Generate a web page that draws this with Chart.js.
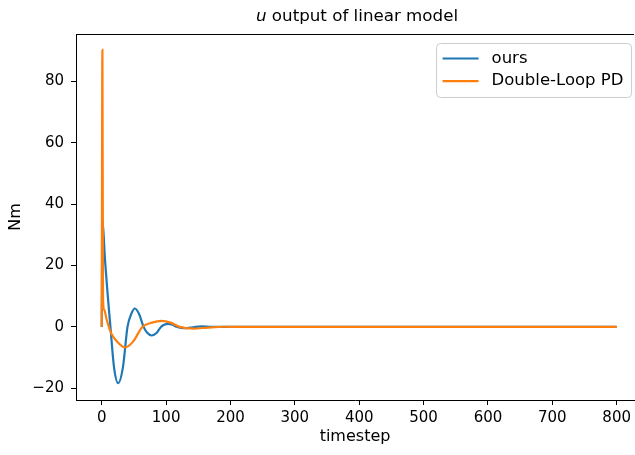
<!DOCTYPE html>
<html>
<head>
<meta charset="utf-8">
<script src="https://cdn.jsdelivr.net/npm/chart.js@4/dist/chart.umd.min.js"></script>
<style>
  html, body { margin: 0; padding: 0; background: #fff; overflow: hidden; }
  canvas { display: block; }
</style>
</head>
<body>
<canvas id="chart" width="635" height="455"></canvas>
<script>
// samples (timestep, Nm)
const tOurs = [0, 1, 5, 9, 13.5, 19, 25.5, 33, 40, 46, 51.5, 58, 65, 71, 77.5, 85, 92, 97, 103, 110, 116, 129, 142, 155, 170, 200, 250, 800];
const uOurs = [0, 35, 22, 11, 0, -13, -18.3, -13, 0, 4.3, 6.0, 4.2, 0, -2, -2.8, -2, 0, 0.7, 1.0, 0.7, 0.1, -0.4, -0.1, 0.15, 0, 0, 0, 0];

const tPD = [0, 1, 2, 4, 7.5, 11, 15, 23, 36, 49, 63, 78, 93, 107, 121, 142, 165, 190, 220, 800];
const uPD = [0, 90.2, 9, 5.5, 2.5, 0, -2.2, -4.6, -6.7, -4.7, 0, 1.4, 1.95, 1.4, 0, -0.55, -0.2, 0.05, 0, 0];

const xTicks = [0, 100, 200, 300, 400, 500, 600, 700, 800];
const yTicks = [-20, 0, 20, 40, 60, 80];

const seriesNames = ["ours", "Double-Loop PD"];
const seriesColors = ["#1f77b4", "#ff7f0e"];

const FONT = "'DejaVu Sans', sans-serif";

function toPoints(xs, ys) {
    return xs.map((x, i) => ({x: x, y: ys[i]}));
}

function tickText(v) {
    return v < 0 ? "\u2212" + Math.abs(v) : String(v);
}

// matplotlib style title with italic "u"
const titlePlugin = {
    id: "mplTitle",
    afterDraw(chart) {
        const ctx = chart.ctx;
        const area = chart.chartArea;
        const italic = "italic 16.7px " + FONT;
        const normal = "16.7px " + FONT;
        ctx.save();
        ctx.font = italic;
        const w1 = ctx.measureText("u").width;
        ctx.font = normal;
        const w2 = ctx.measureText(" output of linear model").width;
        let x = (area.left + area.right + 4) / 2 - (w1 + w2) / 2;
        const y = area.top - 13;
        ctx.fillStyle = "#000";
        ctx.textBaseline = "alphabetic";
        ctx.textAlign = "left";
        ctx.font = italic;
        ctx.fillText("u", x, y);
        ctx.font = normal;
        ctx.fillText(" output of linear model", x + w1, y);
        ctx.restore();
    }
};

// top spine (left/bottom come from the axis borders)
const framePlugin = {
    id: "frame",
    afterDraw(chart) {
        const ctx = chart.ctx;
        const area = chart.chartArea;
        ctx.save();
        ctx.strokeStyle = "#000";
        ctx.lineWidth = 1;
        ctx.beginPath();
        ctx.moveTo(area.left, area.top + 0.5);
        ctx.lineTo(area.right, area.top + 0.5);
        ctx.stroke();
        ctx.restore();
    }
};

// boxed legend in the upper right corner
const legendPlugin = {
    id: "mplLegend",
    afterDatasetsDraw(chart) {
        const ctx = chart.ctx;
        const area = chart.chartArea;
        const boxW = 195, boxH = 54;
        const bx = area.right - 3 - boxW + 0.5;
        const by = area.top + 9 + 0.5;
        ctx.save();
        ctx.beginPath();
        ctx.roundRect(bx, by, boxW, boxH, 4);
        ctx.fillStyle = "rgba(255,255,255,0.8)";
        ctx.fill();
        ctx.strokeStyle = "#cccccc";
        ctx.lineWidth = 1;
        ctx.stroke();
        ctx.font = "16.5px " + FONT;
        ctx.textBaseline = "middle";
        ctx.textAlign = "left";
        chart.data.datasets.forEach((ds, i) => {
            const y = by + 15 + i * 22.7;
            ctx.strokeStyle = ds.borderColor;
            ctx.lineWidth = 2.2;
            ctx.beginPath();
            ctx.moveTo(bx + 6, y);
            ctx.lineTo(bx + 42, y);
            ctx.stroke();
            ctx.fillStyle = "#000";
            ctx.fillText(ds.label, bx + 55, y);
        });
        ctx.restore();
    }
};

const axisCommon = {
    grid: {drawOnChartArea: false, drawTicks: true, tickLength: 5, tickColor: "#000", tickWidth: 1},
    border: {display: true, color: "#000", width: 1}
};

new Chart(document.getElementById("chart"), {
    type: "line",
    data: {
        datasets: [
            {
                label: seriesNames[0],
                data: toPoints(tOurs, uOurs),
                borderColor: seriesColors[0],
                order: 1
            },
            {
                label: seriesNames[1],
                data: toPoints(tPD, uPD),
                borderColor: seriesColors[1],
                order: 0
            }
        ]
    },
    options: {
        responsive: false,
        animation: false,
        devicePixelRatio: 1,
        layout: {padding: {top: 34, left: 0, right: 0, bottom: 0}},
        elements: {
            point: {radius: 0},
            line: {borderWidth: 2.2, fill: false, cubicInterpolationMode: "monotone", borderCapStyle: "butt"}
        },
        plugins: {
            legend: {display: false},
            title: {display: false},
            tooltip: {enabled: false}
        },
        scales: {
            x: {
                ...axisCommon,
                type: "linear",
                min: -40,
                max: 827,
                afterBuildTicks: s => { s.ticks = xTicks.map(v => ({value: v})); },
                afterFit: s => { s.height = 55; },
                ticks: {font: {family: FONT, size: 15}, color: "#000", padding: 4, maxRotation: 0, autoSkip: false, callback: tickText},
                title: {display: true, text: "timestep", color: "#000", font: {family: FONT, size: 16}, padding: {top: 0, bottom: 9}}
            },
            y: {
                ...axisCommon,
                type: "linear",
                min: -23.8,
                max: 95.4,
                afterBuildTicks: s => { s.ticks = yTicks.map(v => ({value: v})); },
                afterFit: s => { s.width = 76; },
                ticks: {font: {family: FONT, size: 15}, color: "#000", padding: 7, autoSkip: false, callback: tickText},
                title: {display: true, text: "Nm", color: "#000", font: {family: FONT, size: 16}, padding: {top: 6, bottom: 0}}
            }
        }
    },
    plugins: [titlePlugin, framePlugin, legendPlugin]
});
</script>
</body>
</html>
